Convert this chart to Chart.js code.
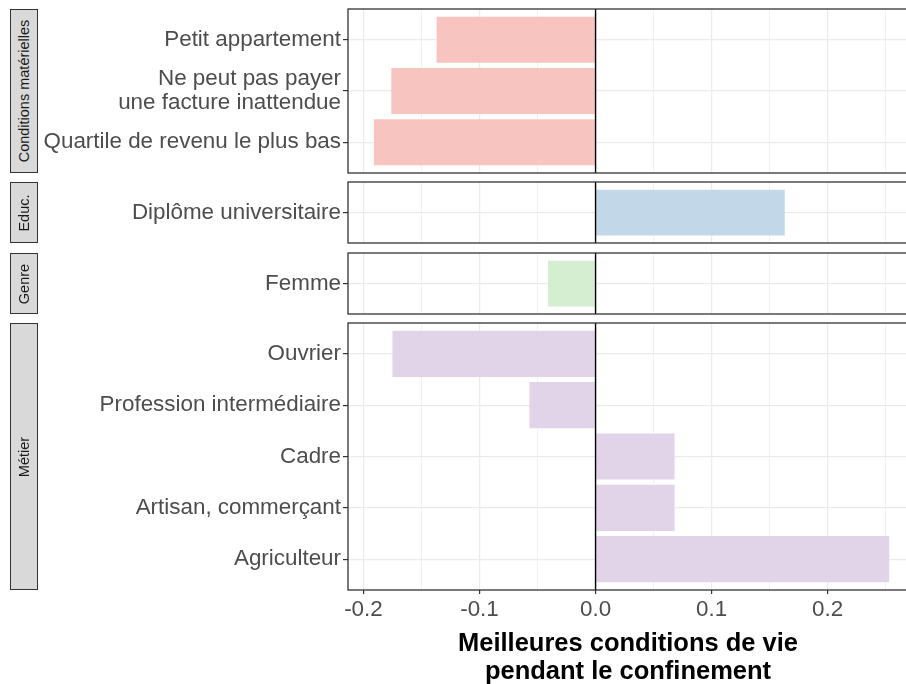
<!DOCTYPE html>
<html>
<head>
<meta charset="utf-8">
<script src="https://cdn.jsdelivr.net/npm/chart.js@4/dist/chart.umd.min.js"></script>
<style>
body { margin: 0; width: 906px; height: 684px; overflow: hidden; background: #fff; position: relative; font-family: "Liberation Sans", Arial, sans-serif; }
canvas { position: absolute; left: 0; }
.strip { position: absolute; left: 10px; width: 28px; background: #d9d9d9; border: 1px solid #333; box-sizing: border-box; display: flex; align-items: center; justify-content: center; z-index: 2; }
.strip span { transform: rotate(-90deg); white-space: nowrap; font-size: 14.5px; color: #1a1a1a; }
</style>
</head>
<body>
<div class="strip" id="s1"><span>Conditions matérielles</span></div>
<div class="strip" id="s2"><span>Educ.</span></div>
<div class="strip" id="s3"><span>Genre</span></div>
<div class="strip" id="s4"><span>Métier</span></div>
<canvas id="c1"></canvas>
<canvas id="c2"></canvas>
<canvas id="c3"></canvas>
<canvas id="c4"></canvas>
<script>
// ------------------------------------------------------------
// Data (one array per facet)
// ------------------------------------------------------------
const condLabels = ['Petit appartement', ['Ne peut pas payer', 'une facture inattendue'], 'Quartile de revenu le plus bas']
const condValues = [-0.137, -0.176, -0.191]

const educLabels = ['Diplôme universitaire']
const educValues = [0.163]

const genreLabels = ['Femme']
const genreValues = [-0.041]

const metierLabels = ['Ouvrier', 'Profession intermédiaire', 'Cadre', 'Artisan, commerçant', 'Agriculteur']
const metierValues = [-0.175, -0.057, 0.068, 0.068, 0.253]

const xTickValues = [-0.2, -0.1, 0.0, 0.1, 0.2]
const xTitle = ['Meilleures conditions de vie', 'pendant le confinement']

// ------------------------------------------------------------
// Layout
// ------------------------------------------------------------
const X_MIN = -0.2133
const X_MAX = 0.2692
const PANEL_LEFT = 348
const CANVAS_W = 908
const FONT = '"Liberation Sans", Arial, sans-serif'

const panels = [
    { id: 'c1', strip: 's1', top: 9, h: 164, labels: condLabels, values: condValues, color: '#f8c4c0' },
    { id: 'c2', strip: 's2', top: 182, h: 61, labels: educLabels, values: educValues, color: '#c2d7e8' },
    { id: 'c3', strip: 's3', top: 253, h: 61, labels: genreLabels, values: genreValues, color: '#d5edd1' },
    { id: 'c4', strip: 's4', top: 323, h: 267, labels: metierLabels, values: metierValues, color: '#e2d4e8', last: true },
]

const isMajor = (v) => xTickValues.some(t => Math.abs(t - v) < 1e-6)

// panel frame + zero line
const framePlugin = {
    id: 'frame',
    afterDatasetsDraw(chart) {
        const { ctx, chartArea: a, scales } = chart
        const x0 = scales.x.getPixelForValue(0)
        ctx.save()
        ctx.strokeStyle = '#000'
        ctx.lineWidth = 1.4
        ctx.beginPath()
        ctx.moveTo(x0, a.top)
        ctx.lineTo(x0, a.bottom)
        ctx.stroke()
        ctx.strokeStyle = '#333'
        ctx.lineWidth = 1.3
        ctx.strokeRect(a.left, a.top, a.right - a.left, a.bottom - a.top)
        ctx.restore()
    }
}

panels.forEach(p => {
    const n = p.labels.length
    const canvas = document.getElementById(p.id)
    const cTop = p.top - 2
    const cH = p.last ? 686 - cTop : p.h + 4
    canvas.width = CANVAS_W
    canvas.height = cH
    canvas.style.top = cTop + 'px'

    const strip = document.getElementById(p.strip)
    strip.style.top = p.top + 'px'
    strip.style.height = p.h + 'px'

    new Chart(canvas, {
        type: 'bar',
        data: {
            datasets: [{
                data: p.values.map((v, i) => ({ x: v, y: i })),
                backgroundColor: p.color,
                borderWidth: 0,
                categoryPercentage: 1,
                barPercentage: n > 1 ? 0.9 : 0.75,
            }]
        },
        options: {
            indexAxis: 'y',
            responsive: false,
            animation: false,
            layout: { padding: { top: 2, bottom: p.last ? 0 : 2, left: 0, right: 0 } },
            plugins: { legend: { display: false }, tooltip: { enabled: false } },
            scales: {
                x: {
                    type: 'linear',
                    min: X_MIN,
                    max: X_MAX,
                    offset: false,
                    border: { display: false },
                    grid: {
                        offset: false,
                        color: '#ebebeb',
                        lineWidth: (c) => isMajor(c.tick.value) ? 1.2 : 0.7,
                        drawTicks: !!p.last,
                        tickLength: 4,
                        tickColor: (c) => isMajor(c.tick.value) ? '#333' : 'rgba(0,0,0,0)',
                    },
                    ticks: {
                        display: !!p.last,
                        stepSize: 0.05,
                        includeBounds: false,
                        autoSkip: false,
                        maxRotation: 0,
                        padding: 2,
                        color: '#4d4d4d',
                        font: { family: FONT, size: 22.4 },
                        callback: (v) => isMajor(v) ? v.toFixed(1) : '',
                    },
                    title: {
                        display: !!p.last,
                        text: xTitle,
                        color: '#000',
                        font: { family: FONT, size: 25.5, weight: 'bold', lineHeight: 1.1 },
                        padding: { top: 0, bottom: 0 },
                    },
                    afterFit: (scale) => {
                        scale.height = p.last ? cH - 2 - p.h : 0
                        scale.paddingLeft = 0
                        scale.paddingRight = 0
                    },
                },
                y: {
                    type: 'linear',
                    reverse: true,
                    offset: false,
                    min: -0.6,
                    max: n - 0.4,
                    border: { display: false },
                    afterBuildTicks: (scale) => { scale.ticks = p.labels.map((l, i) => ({ value: i })) },
                    grid: {
                        offset: false,
                        color: '#ebebeb',
                        lineWidth: 1.2,
                        tickLength: 5,
                        tickColor: '#333',
                    },
                    ticks: {
                        autoSkip: false,
                        padding: 2,
                        color: '#4d4d4d',
                        font: { family: FONT, size: 22.4, lineHeight: 1.05 },
                        callback: (v) => p.labels[v],
                    },
                    afterFit: (scale) => {
                        scale.width = PANEL_LEFT
                        scale.paddingTop = 0
                        scale.paddingBottom = 0
                    },
                }
            }
        },
        plugins: [framePlugin]
    })
})
</script>
</body>
</html>
